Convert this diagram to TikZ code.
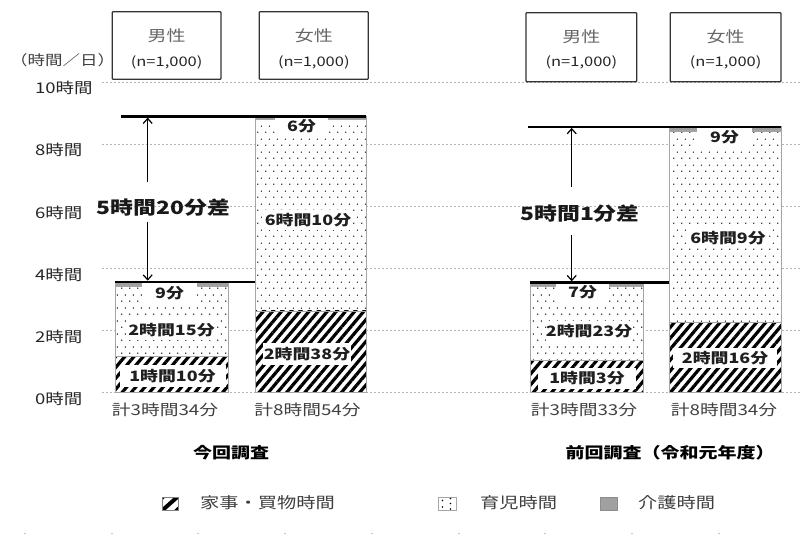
\documentclass[tikz,border=0pt]{standalone}
\usepackage{fontspec}
\setmainfont[FakeStretch=1.25]{Noto Sans CJK JP}
\usetikzlibrary{patterns,patterns.meta,arrows.meta}
\definecolor{gridc}{HTML}{B4B4B4}
\definecolor{barline}{HTML}{A6A6A6}
\definecolor{carec}{HTML}{A0A0A0}
\definecolor{axistxt}{HTML}{262626}
\definecolor{headtxt}{HTML}{666666}
\definecolor{bodytxt}{HTML}{404040}
\pgfdeclarepatternformonly{stagdots}{\pgfpointorigin}{\pgfpoint{8pt}{13pt}}{\pgfpoint{8pt}{13pt}}{%
  \pgfpathcircle{\pgfpoint{2pt}{3pt}}{0.8pt}%
  \pgfpathcircle{\pgfpoint{6pt}{9.5pt}}{0.8pt}%
  \pgfusepath{fill}}
\tikzset{
  gridln/.style={gridc, line width=0.8pt, dash pattern=on 2pt off 2pt},
  hseg/.style={draw=barline, line width=0.8pt, pattern={Lines[angle=50,distance=7pt,line width=3.2pt]}},
  cseg/.style={draw=barline, line width=0.8pt, pattern=stagdots},
  gseg/.style={draw=barline, line width=0.6pt, fill=carec},
  blab/.style={fill=white, inner sep=0pt, font=\bfseries\fontsize{14.3}{16}\selectfont, text=black!88, minimum height=20pt},
  axl/.style={anchor=west, inner sep=0pt, font=\fontsize{14.8}{16}\selectfont, text=axistxt},
  headbox/.style={draw=black!80, line width=1.3pt, inner sep=0pt, rounded corners=0.8pt},
  headA/.style={inner sep=0pt, font=\fontsize{15.2}{17}\selectfont, text=headtxt},
  headB/.style={inner sep=0pt, font=\fontsize{13.2}{15}\selectfont, text=black!85},
  totl/.style={inner sep=0pt, font=\fontsize{15}{17}\selectfont, text=bodytxt},
  titl/.style={inner sep=0pt, font=\bfseries\fontsize{15.2}{17}\selectfont, text=black},
  difl/.style={inner sep=0pt, font=\bfseries\fontsize{18.3}{20}\selectfont, text=black!90},
  legt/.style={anchor=west, inner sep=0pt, font=\fontsize{15.4}{17}\selectfont, text=bodytxt},
  thickln/.style={black, line width=2.4pt},
  arr/.style={black, line width=1.2pt, -{Straight Barb[length=5pt,width=9pt]}}
}
\begin{document}
\begin{tikzpicture}[x=1pt,y=-1pt]
\useasboundingbox (0,0) rectangle (800,538);
\fill[white] (0,0) rectangle (800,538);
% grid
\foreach \g in {82.2,144.3,206.4,268.5,330.6,392.7} \draw[gridln] (102,\g) -- (800,\g);
% axis labels
\node[axl] (y10) at (35,88.2) {10時間};
\node[axl] (y8) at (35,150.3) {8時間};
\node[axl] (y6) at (35,212.4) {6時間};
\node[axl] (y4) at (35,274.5) {4時間};
\node[axl] (y2) at (35,336.6) {2時間};
\node[axl] (y0) at (35,398.7) {0時間};
\node[anchor=west, inner sep=0pt, font=\fontsize{14}{16}\selectfont, text=bodytxt] (unit) at (10,60) {（時間／日）};
% header boxes
\node[headbox, minimum width=108.7pt, minimum height=67.6pt] (hlm) at (166.65,45.5) {};
\node[headbox, minimum width=109pt, minimum height=67.6pt] (hlf) at (313.8,45.5) {};
\node[headbox, minimum width=110.7pt, minimum height=69pt] (hrm) at (581.35,47.2) {};
\node[headbox, minimum width=110.7pt, minimum height=69pt] (hrf) at (725.65,47.2) {};
\node[headA] (hlmA) at (166.65,36) {男性};
\node[headB] (hlmB) at (166.65,62) {(n=1,000)};
\node[headA] (hlfA) at (313.8,36) {女性};
\node[headB] (hlfB) at (313.8,62) {(n=1,000)};
\node[headA] (hrmA) at (581.35,36.5) {男性};
\node[headB] (hrmB) at (581.35,62.5) {(n=1,000)};
\node[headA] (hrfA) at (725.65,36.5) {女性};
\node[headB] (hrfB) at (725.65,62.5) {(n=1,000)};
% ---- left male bar
\path[fill=white] (115,392.7) rectangle (228,281.95);
\draw[hseg] (115,392.7) rectangle (228,356.5);
\draw[cseg] (115,356.5) rectangle (228,286.6);
\draw[gseg] (115,286.6) rectangle (228,281.95);
\node[blab, minimum width=55pt, minimum height=21pt] (lmc) at (169.5,293) {9分};
\node[blab, minimum width=82pt] (lmk) at (171.5,330) {2時間15分};
\node[blab, minimum width=106pt, minimum height=22pt] (lmh) at (172.5,376) {1時間10分};
% ---- left female bar
\path[fill=white] (255,392.7) rectangle (366,116.35);
\draw[hseg] (255,392.7) rectangle (366,310.9);
\draw[cseg] (255,310.9) rectangle (366,119.5);
\draw[gseg] (255,119.5) rectangle (366,116.35);
\node[blab, minimum width=53pt] (lfc) at (301.5,126.5) {6分};
\node[blab, minimum width=84pt] (lfk) at (308,220) {6時間10分};
\node[blab, minimum width=88pt, minimum height=22pt] (lfh) at (307,354) {2時間38分};
% ---- right male bar
\path[fill=white] (530,392.7) rectangle (643,282.5);
\draw[hseg] (530,392.7) rectangle (643,360.1);
\draw[cseg] (530,360.1) rectangle (643,286.1);
\draw[gseg] (530,286.1) rectangle (643,282.5);
\node[blab, minimum width=53pt] (rmc) at (582.5,292.5) {7分};
\node[blab, minimum width=84pt] (rmk) at (589,331) {2時間23分};
\node[blab, minimum width=98pt, minimum height=21pt] (rmh) at (587,378) {1時間3分};
% ---- right female bar
\path[fill=white] (669,392.7) rectangle (781,126.7);
\draw[hseg] (669,392.7) rectangle (781,322.3);
\draw[cseg] (669,322.3) rectangle (781,131.4);
\draw[gseg] (669,131.4) rectangle (781,126.7);
\node[blab, minimum width=55pt] (rfc) at (724.5,137) {9分};
\node[blab, minimum width=80pt] (rfk) at (728,238) {6時間9分};
\node[blab, minimum width=104pt] (rfh) at (725,358) {2時間16分};
% ---- difference lines and arrows
\coordinate (lt1) at (121,116.35); \coordinate (lt2) at (366,116.35);
\coordinate (lb1) at (115,281.95); \coordinate (lb2) at (255,281.95);
\draw[thickln] (lt1) -- (lt2);
\draw[thickln] (lb1) -- (lb2);
\coordinate (lau0) at (147.7,181.7); \coordinate (lau1) at (147.7,117.6);
\coordinate (lad0) at (147.7,221.7); \coordinate (lad1) at (147.7,280.7);
\draw[arr] (lau0) -- (lau1);
\draw[arr] (lad0) -- (lad1);
\node[difl] (ldiff) at (163.5,207.5) {5時間20分差};
\coordinate (rt1) at (528,126.7); \coordinate (rt2) at (781,126.7);
\coordinate (rb1) at (530,282.5); \coordinate (rb2) at (669,282.5);
\draw[thickln] (rt1) -- (rt2);
\draw[thickln] (rb1) -- (rb2);
\coordinate (rau0) at (571.7,187); \coordinate (rau1) at (571.7,127.9);
\coordinate (rad0) at (571.7,235); \coordinate (rad1) at (571.7,281.3);
\draw[arr] (rau0) -- (rau1);
\draw[arr] (rad0) -- (rad1);
\node[difl] (rdiff) at (580,213.5) {5時間1分差};
% ---- totals
\node[totl] (tlm) at (165,410) {計3時間34分};
\node[totl] (tlf) at (307.5,410) {計8時間54分};
\node[totl] (trm) at (584,410) {計3時間33分};
\node[totl] (trf) at (724,410) {計8時間34分};
% ---- titles
\node[titl] (tl) at (231,453) {今回調査};
\node[titl] (tr) at (670,453) {前回調査（令和元年度）};
% ---- legend
\begin{scope}
\path[fill=white] (162,497) rectangle (178,510);
\clip (162,497) rectangle (178,510);
\draw[black, line width=4pt] (161,511.5) -- (179,495.5);
\draw[black, line width=3pt] (157,503) -- (169,492);
\draw[black, line width=3pt] (171,515) -- (183,504);
\end{scope}
\draw[black!50, line width=0.8pt] (162,497) rectangle (178,510);
\node[legt] (lg1) at (200,503) {家事・買物時間};
\draw[barline, line width=0.8pt, fill=white] (438,497) rectangle (456,510);
\fill[black] (442.5,500.5) circle (0.8pt) (442.5,507) circle (0.8pt) (450.5,503.5) circle (0.8pt) (450.5,509) circle (0.8pt) (450.5,498.5) circle (0.8pt);
\node[legt] (lg2) at (480,503) {育児時間};
\draw[black!45, line width=0.8pt, fill=carec] (600,497) rectangle (617,510);
\node[legt] (lg3) at (638,503) {介護時間};
% ---- faint bottom marks
\draw[black!22, line width=0.6pt, dash pattern=on 2pt off 84.7pt] (24,533) -- (800,533);
\end{tikzpicture}
\end{document}
